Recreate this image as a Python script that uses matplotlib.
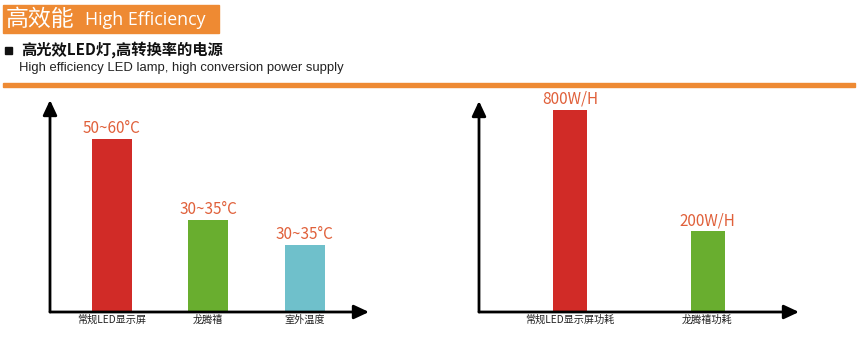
import matplotlib
matplotlib.use("Agg")
import matplotlib.pyplot as plt
from matplotlib.patches import Rectangle

plt.rcParams['font.family'] = ['Noto Sans CJK SC', 'DejaVu Sans']

# ---- data ----
temp_categories = ["常规LED显示屏", "龙腾禧", "室外温度"]
temp_heights = [173, 92, 67]          # bar heights as drawn (arbitrary units)
temp_labels = ["50~60°C", "30~35°C", "30~35°C"]
temp_colors = ["#d12b27", "#69ae2f", "#6fc0cb"]

power_categories = ["常规LED显示屏功耗", "龙腾禧功耗"]
power_heights = [202, 81]             # bar heights as drawn (arbitrary units)
power_labels = ["800W/H", "200W/H"]
power_colors = ["#d12b27", "#69ae2f"]

ORANGE = "#ee8a33"
LABEL_COLOR = "#e0603a"

W, H = 864, 337
fig = plt.figure(figsize=(W / 100, H / 100), dpi=100)

def fx(x):
    return x / W

def fy(y):
    return 1 - y / H

# header box
fig.patches.append(Rectangle((fx(3), fy(33)), fx(216), (33 - 5) / H,
                             transform=fig.transFigure, color=ORANGE, zorder=0))
fig.text(fx(6), fy(19.5), "高效能", color="white", fontsize=16.5, va="center", ha="left")
fig.text(fx(85), fy(20), "High Efficiency", color="white", fontsize=12.8, va="center", ha="left",
         family=['Open Sans', 'DejaVu Sans'])

# subtitle
fig.patches.append(Rectangle((fx(5), fy(54)), fx(7), 7 / H,
                             transform=fig.transFigure, color="#111111"))
fig.text(fx(21), fy(50), "高光效LED灯,高转换率的电源", color="#111111", fontsize=11,
         fontweight="bold", va="center", ha="left")
fig.text(fx(19), fy(68.5), "High efficiency LED lamp, high conversion power supply",
         color="#222222", fontsize=9.4, va="center", ha="left",
         family=['Liberation Sans', 'DejaVu Sans'])

# orange rule
fig.patches.append(Rectangle((fx(3), fy(86.5)), fx(852), 3.5 / H,
                             transform=fig.transFigure, color=ORANGE))


def make_chart(x0, x1, ytop, ybase, cats, heights, labels, colors, centers_px, width_px):
    ax = fig.add_axes([fx(x0), fy(ybase), (x1 - x0) / W, (ybase - ytop) / H])
    spacing = centers_px[1] - centers_px[0]
    n = len(cats)
    xs = list(range(n))
    left = -(centers_px[0] - x0) / spacing
    right = (n - 1) + (x1 - centers_px[-1]) / spacing
    ax.set_xlim(left, right)
    ax.set_ylim(0, ybase - ytop)
    ax.bar(xs, heights, width=width_px / spacing, color=colors, zorder=2)
    for x, h, lab in zip(xs, heights, labels):
        ax.text(x, h + 2, lab, ha="center", va="bottom", color=LABEL_COLOR, fontsize=11)
    ax.set_xticks(xs)
    ax.set_xticklabels(cats, fontsize=7.3, color="#222222")
    ax.tick_params(axis="x", length=0, pad=2)
    ax.set_yticks([])
    for s in ax.spines.values():
        s.set_visible(False)
    ax.patch.set_alpha(0)
    # axes with arrows
    style = "-|>,head_length=0.9,head_width=0.42"
    ax.annotate("", xy=(0, 1), xytext=(0, 0), xycoords="axes fraction",
                arrowprops=dict(arrowstyle=style, color="black", lw=2, shrinkA=0, shrinkB=0),
                annotation_clip=False)
    ax.annotate("", xy=(1, 0), xytext=(0, 0), xycoords="axes fraction",
                arrowprops=dict(arrowstyle=style, color="black", lw=2, shrinkA=0, shrinkB=0),
                annotation_clip=False)
    return ax


make_chart(50, 369, 100, 312, temp_categories, temp_heights, temp_labels, temp_colors,
           [112, 208.5, 304.5], 40)
make_chart(479, 799, 101, 312, power_categories, power_heights, power_labels, power_colors,
           [570, 707.5], 34)

fig.savefig("out.png", dpi=100)
